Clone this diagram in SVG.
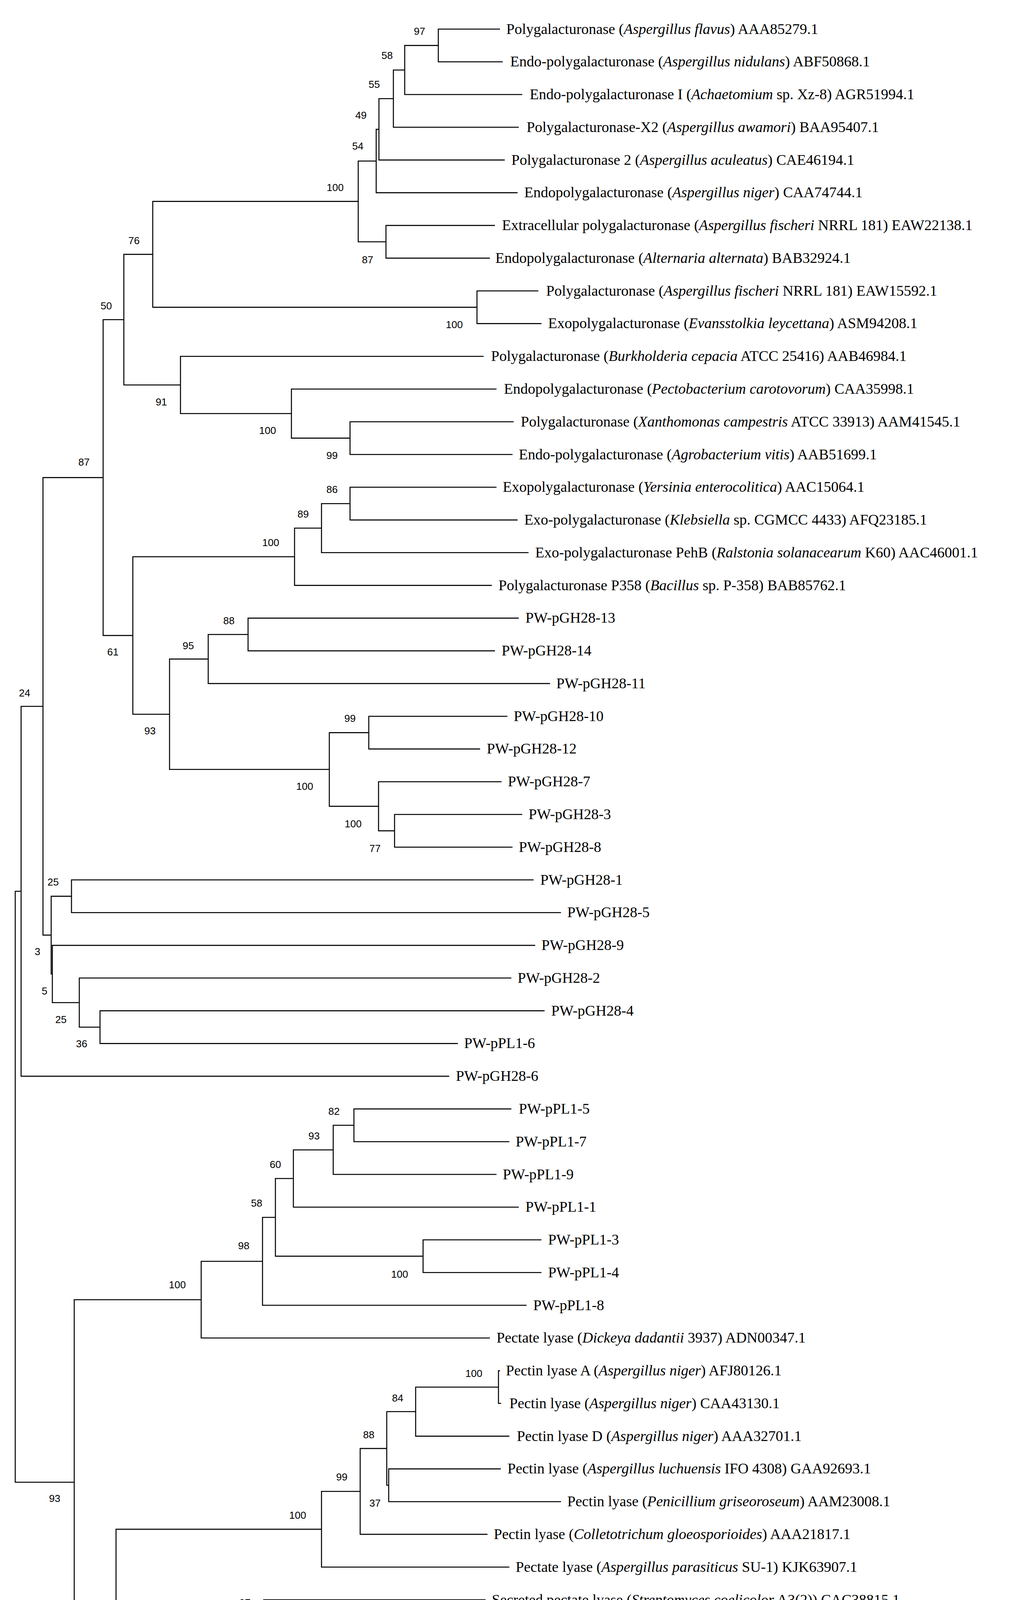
<svg xmlns="http://www.w3.org/2000/svg" width="2588" height="5686" viewBox="0 0 2588 5686">
<style>
.br{fill:none;stroke:#000;stroke-width:2.6;stroke-linejoin:miter}
.lf{font-family:"Liberation Serif","Times New Roman",serif;font-size:38px;fill:#000}
.bs{font-family:"Liberation Sans",Arial,sans-serif;font-size:26px;fill:#000;text-anchor:middle}
.i{font-style:italic}
.sc{font-family:"Liberation Sans",Arial,sans-serif;font-size:27px;fill:#000;text-anchor:middle}
</style>
<rect width="2588" height="5686" fill="#fff"/>
<g id="branches">
<path class="br" d="M1280,74.5H1122V158.3H1287"/>
<path class="br" d="M1122,116.4H1036V242H1337"/>
<path class="br" d="M1036,179.2H1007V325.8H1328"/>
<path class="br" d="M1007,252.5H970V409.6H1292"/>
<path class="br" d="M970,331.1H963V493.4H1325"/>
<path class="br" d="M1267,577.1H988V660.9H1254"/>
<path class="br" d="M963,412.2H917V619H988"/>
<path class="br" d="M1378,744.7H1221V828.4H1386"/>
<path class="br" d="M917,515.6H391V786.6H1221"/>
<path class="br" d="M1315,1079.7H896V1163.5H1312"/>
<path class="br" d="M1271,996H746V1121.6H896"/>
<path class="br" d="M1238,912.2H462V1058.8H746"/>
<path class="br" d="M391,651.1H317V985.5H462"/>
<path class="br" d="M1271,1247.3H896V1331.1H1325"/>
<path class="br" d="M896,1289.2H823V1414.8H1353"/>
<path class="br" d="M823,1352H754V1498.6H1259"/>
<path class="br" d="M1328,1582.4H635V1666.1H1267"/>
<path class="br" d="M635,1624.3H533V1749.9H1408"/>
<path class="br" d="M1299,1833.7H944V1917.4H1229"/>
<path class="br" d="M1337,2085H1010V2168.8H1312"/>
<path class="br" d="M1284,2001.2H969V2126.9H1010"/>
<path class="br" d="M944,1875.6H843V2064.1H969"/>
<path class="br" d="M533,1687.1H434V1969.8H843"/>
<path class="br" d="M754,1425.3H340V1828.5H434"/>
<path class="br" d="M317,818.3H264V1626.9H340"/>
<path class="br" d="M1366,2252.5H183V2336.3H1436"/>
<path class="br" d="M1394,2587.6H256V2671.4H1172"/>
<path class="br" d="M1309,2503.8H203V2629.5H256"/>
<path class="br" d="M1370,2420.1H134V2566.7H203"/>
<path class="br" d="M183,2294.4H131V2493.4H134"/>
<path class="br" d="M264,1222.6H110V2393.9H131"/>
<path class="br" d="M110,1808.3H54V2755.1H1150"/>
<path class="br" d="M1309,2838.9H906V2922.7H1304"/>
<path class="br" d="M906,2880.8H853V3006.5H1271"/>
<path class="br" d="M853,2943.7H751V3090.2H1328"/>
<path class="br" d="M1386,3174H1083V3257.8H1386"/>
<path class="br" d="M751,3017H705V3215.9H1083"/>
<path class="br" d="M705,3116.5H672V3341.5H1348"/>
<path class="br" d="M672,3229H515V3425.3H1254"/>
<path class="br" d="M1280,3509.1H1276V3592.8H1283"/>
<path class="br" d="M1276,3551H1064V3676.6H1304"/>
<path class="br" d="M1282,3760.4H995V3844.2H1436"/>
<path class="br" d="M1064,3613.8H990V3802.3H995"/>
<path class="br" d="M990,3708.1H922V3927.9H1248"/>
<path class="br" d="M922,3818H823V4011.7H1304"/>
<path class="br" d="M1243,4095.5H675V4179.2H1200"/>
<path class="br" d="M675,4137.4H566V4263H1210"/>
<path class="br" d="M1147,4346.8H528V4430.5H1201"/>
<path class="br" d="M566,4200.2H446V4388.7H528"/>
<path class="br" d="M1345,4514.3H1163V4598.1H1356"/>
<path class="br" d="M446,4294.5H408V4556.2H1163"/>
<path class="br" d="M1373,4849.4H794V4933.2H1307"/>
<path class="br" d="M1231,5016.9H968V5100.7H1210"/>
<path class="br" d="M1283,5184.5H1173V5268.2H1174"/>
<path class="br" d="M1179,5352H1178V5435.8H1179"/>
<path class="br" d="M1173,5226.4H947V5393.9H1178"/>
<path class="br" d="M968,5058.8H944V5310.2H947"/>
<path class="br" d="M794,4891.3H553V5184.5H944"/>
<path class="br" d="M1147,4765.6H457V5037.9H553"/>
<path class="br" d="M1345,4681.9H385V4901.8H457"/>
<path class="br" d="M408,4425.4H360V4791.9H385"/>
<path class="br" d="M823,3914.9H297V4608.7H360"/>
<path class="br" d="M515,3327.2H190V4261.8H297"/>
<path class="br" d="M54,2281.7H39V3794.5H190"/>
</g>
<g id="leaves">
<g id="leaf-01"><text class="lf" x="1296" y="86.5">Polygalacturonase (<tspan class="i">Aspergillus flavus</tspan>) AAA85279.1</text></g>
<g id="leaf-02"><text class="lf" x="1306" y="170.3">Endo-polygalacturonase (<tspan class="i">Aspergillus nidulans</tspan>) ABF50868.1</text></g>
<g id="leaf-03"><text class="lf" x="1356" y="254">Endo-polygalacturonase I (<tspan class="i">Achaetomium</tspan> sp. Xz-8) AGR51994.1</text></g>
<g id="leaf-04"><text class="lf" x="1348" y="337.8">Polygalacturonase-X2 (<tspan class="i">Aspergillus awamori</tspan>) BAA95407.1</text></g>
<g id="leaf-05"><text class="lf" x="1309" y="421.6">Polygalacturonase 2 (<tspan class="i">Aspergillus aculeatus</tspan>) CAE46194.1</text></g>
<g id="leaf-06"><text class="lf" x="1342" y="505.4">Endopolygalacturonase (<tspan class="i">Aspergillus niger</tspan>) CAA74744.1</text></g>
<g id="leaf-07"><text class="lf" x="1285" y="589.1">Extracellular polygalacturonase (<tspan class="i">Aspergillus fischeri</tspan> NRRL 181) EAW22138.1</text></g>
<g id="leaf-08"><text class="lf" x="1268" y="672.9">Endopolygalacturonase (<tspan class="i">Alternaria alternata</tspan>) BAB32924.1</text></g>
<g id="leaf-09"><text class="lf" x="1398" y="756.7">Polygalacturonase (<tspan class="i">Aspergillus fischeri</tspan> NRRL 181) EAW15592.1</text></g>
<g id="leaf-10"><text class="lf" x="1403" y="840.4">Exopolygalacturonase (<tspan class="i">Evansstolkia leycettana</tspan>) ASM94208.1</text></g>
<g id="leaf-11"><text class="lf" x="1257" y="924.2">Polygalacturonase (<tspan class="i">Burkholderia cepacia</tspan> ATCC 25416) AAB46984.1</text></g>
<g id="leaf-12"><text class="lf" x="1290" y="1008">Endopolygalacturonase (<tspan class="i">Pectobacterium carotovorum</tspan>) CAA35998.1</text></g>
<g id="leaf-13"><text class="lf" x="1333" y="1091.7">Polygalacturonase (<tspan class="i">Xanthomonas campestris</tspan> ATCC 33913) AAM41545.1</text></g>
<g id="leaf-14"><text class="lf" x="1328" y="1175.5">Endo-polygalacturonase (<tspan class="i">Agrobacterium vitis</tspan>) AAB51699.1</text></g>
<g id="leaf-15"><text class="lf" x="1287" y="1259.3">Exopolygalacturonase (<tspan class="i">Yersinia enterocolitica</tspan>) AAC15064.1</text></g>
<g id="leaf-16"><text class="lf" x="1342" y="1343.1">Exo-polygalacturonase (<tspan class="i">Klebsiella</tspan> sp. CGMCC 4433) AFQ23185.1</text></g>
<g id="leaf-17"><text class="lf" x="1370" y="1426.8">Exo-polygalacturonase PehB (<tspan class="i">Ralstonia solanacearum</tspan> K60) AAC46001.1</text></g>
<g id="leaf-18"><text class="lf" x="1276" y="1510.6">Polygalacturonase P358 (<tspan class="i">Bacillus</tspan> sp. P-358) BAB85762.1</text></g>
<g id="leaf-19"><text class="lf" x="1345" y="1594.4">PW-pGH28-13</text></g>
<g id="leaf-20"><text class="lf" x="1284" y="1678.1">PW-pGH28-14</text></g>
<g id="leaf-21"><text class="lf" x="1424" y="1761.9">PW-pGH28-11</text></g>
<g id="leaf-22"><text class="lf" x="1315" y="1845.7">PW-pGH28-10</text></g>
<g id="leaf-23"><text class="lf" x="1246" y="1929.4">PW-pGH28-12</text></g>
<g id="leaf-24"><text class="lf" x="1300" y="2013.2">PW-pGH28-7</text></g>
<g id="leaf-25"><text class="lf" x="1353" y="2097">PW-pGH28-3</text></g>
<g id="leaf-26"><text class="lf" x="1328" y="2180.8">PW-pGH28-8</text></g>
<g id="leaf-27"><text class="lf" x="1383" y="2264.5">PW-pGH28-1</text></g>
<g id="leaf-28"><text class="lf" x="1452" y="2348.3">PW-pGH28-5</text></g>
<g id="leaf-29"><text class="lf" x="1386" y="2432.1">PW-pGH28-9</text></g>
<g id="leaf-30"><text class="lf" x="1325" y="2515.8">PW-pGH28-2</text></g>
<g id="leaf-31"><text class="lf" x="1411" y="2599.6">PW-pGH28-4</text></g>
<g id="leaf-32"><text class="lf" x="1188" y="2683.4">PW-pPL1-6</text></g>
<g id="leaf-33"><text class="lf" x="1167" y="2767.1">PW-pGH28-6</text></g>
<g id="leaf-34"><text class="lf" x="1328" y="2850.9">PW-pPL1-5</text></g>
<g id="leaf-35"><text class="lf" x="1320" y="2934.7">PW-pPL1-7</text></g>
<g id="leaf-36"><text class="lf" x="1287" y="3018.5">PW-pPL1-9</text></g>
<g id="leaf-37"><text class="lf" x="1345" y="3102.2">PW-pPL1-1</text></g>
<g id="leaf-38"><text class="lf" x="1403" y="3186">PW-pPL1-3</text></g>
<g id="leaf-39"><text class="lf" x="1403" y="3269.8">PW-pPL1-4</text></g>
<g id="leaf-40"><text class="lf" x="1365" y="3353.5">PW-pPL1-8</text></g>
<g id="leaf-41"><text class="lf" x="1271" y="3437.3">Pectate lyase (<tspan class="i">Dickeya dadantii</tspan> 3937) ADN00347.1</text></g>
<g id="leaf-42"><text class="lf" x="1295" y="3521.1">Pectin lyase A (<tspan class="i">Aspergillus niger</tspan>) AFJ80126.1</text></g>
<g id="leaf-43"><text class="lf" x="1304" y="3604.8">Pectin lyase (<tspan class="i">Aspergillus niger</tspan>) CAA43130.1</text></g>
<g id="leaf-44"><text class="lf" x="1323" y="3688.6">Pectin lyase D (<tspan class="i">Aspergillus niger</tspan>) AAA32701.1</text></g>
<g id="leaf-45"><text class="lf" x="1299" y="3772.4">Pectin lyase (<tspan class="i">Aspergillus luchuensis</tspan> IFO 4308) GAA92693.1</text></g>
<g id="leaf-46"><text class="lf" x="1452" y="3856.2">Pectin lyase (<tspan class="i">Penicillium griseoroseum</tspan>) AAM23008.1</text></g>
<g id="leaf-47"><text class="lf" x="1264" y="3939.9">Pectin lyase (<tspan class="i">Colletotrichum gloeosporioides</tspan>) AAA21817.1</text></g>
<g id="leaf-48"><text class="lf" x="1320" y="4023.7">Pectate lyase (<tspan class="i">Aspergillus parasiticus</tspan> SU-1) KJK63907.1</text></g>
<g id="leaf-49"><text class="lf" x="1259" y="4107.5">Secreted pectate lyase (<tspan class="i">Streptomyces coelicolor</tspan> A3(2)) CAC38815.1</text></g>
<g id="leaf-50"><text class="lf" x="1216" y="4191.2">Pectate lyase (<tspan class="i">Lysinibacillus fusiformis</tspan>) ADK23887.1</text></g>
<g id="leaf-51"><text class="lf" x="1226" y="4275">Pectate lyase (<tspan class="i">Dickeya chrysanthemi</tspan>) AAA24843.1</text></g>
<g id="leaf-52"><text class="lf" x="1163" y="4358.8">PW-pPL1-2</text></g>
<g id="leaf-53"><text class="lf" x="1218" y="4442.5">Pectate lyase (<tspan class="i">Thermotoga maritima</tspan> MSB8) AAD35518.1</text></g>
<g id="leaf-54"><text class="lf" x="1361" y="4526.3">Pectate lyase (<tspan class="i">Zinnia elegans</tspan>) CAA70735.1</text></g>
<g id="leaf-55"><text class="lf" x="1373" y="4610.1">Pectate lyase 1 (<tspan class="i">Musa acuminata</tspan> AAA Group) AAF19195.1</text></g>
<g id="leaf-56"><text class="lf" x="1361" y="4693.9">Pectate lyase (<tspan class="i">Paenibacillus amylolyticus</tspan>) ADB78775.2</text></g>
<g id="leaf-57"><text class="lf" x="1163" y="4777.6">Pectate lyase (<tspan class="i">Volvariella volvacea</tspan>) AIU56796.1</text></g>
<g id="leaf-58"><text class="lf" x="1389" y="4861.4">Pectate lyase I (<tspan class="i">Pectobacterium atrosepticum</tspan> SCRI1043) CAG76964.1</text></g>
<g id="leaf-59"><text class="lf" x="1323" y="4945.2">Cold-active and alkaline pectate lyase (<tspan class="i">Massilia eurypsychrophila</tspan>) AXM05364.1</text></g>
<g id="leaf-60"><text class="lf" x="1248" y="5028.9">Pectate lyase (<tspan class="i">Alkalihalobacillus clausii</tspan>) ALK03050.1</text></g>
<g id="leaf-61"><text class="lf" x="1227" y="5112.7">Pectate lyase (<tspan class="i">Bacillus</tspan> sp. P-4-N) BAA96478.1</text></g>
<g id="leaf-62"><text class="lf" x="1299" y="5196.5">Pectate lyase (<tspan class="i">Bacillus pumilus</tspan>) ADK23889.1</text></g>
<g id="leaf-63"><text class="lf" x="1193" y="5280.2">Pectate lyase (<tspan class="i">Bacillus</tspan> sp.) BAA76884.1</text></g>
<g id="leaf-64"><text class="lf" x="1196" y="5364">Pectate lyase (<tspan class="i">Bacillus</tspan> sp. RN1) BAG12908.1</text></g>
<g id="leaf-65"><text class="lf" x="1196" y="5447.8">Pectate lyase (<tspan class="i">Bacillus licheniformis</tspan>) CAD56882.1</text></g>
</g>
<g id="bootstrap">
<g id="node-97a"><text class="bs" x="1074" y="89">97</text></g>
<g id="node-58a"><text class="bs" x="991" y="151">58</text></g>
<g id="node-55"><text class="bs" x="958" y="225">55</text></g>
<g id="node-49"><text class="bs" x="924" y="304">49</text></g>
<g id="node-54"><text class="bs" x="916" y="383">54</text></g>
<g id="node-100a"><text class="bs" x="858" y="489">100</text></g>
<g id="node-87a"><text class="bs" x="941" y="674">87</text></g>
<g id="node-76"><text class="bs" x="343" y="625">76</text></g>
<g id="node-100b"><text class="bs" x="1163" y="840">100</text></g>
<g id="node-50"><text class="bs" x="272" y="792">50</text></g>
<g id="node-91a"><text class="bs" x="413" y="1038">91</text></g>
<g id="node-100d"><text class="bs" x="685" y="1111">100</text></g>
<g id="node-99a"><text class="bs" x="850" y="1175">99</text></g>
<g id="node-87b"><text class="bs" x="215" y="1192">87</text></g>
<g id="node-86"><text class="bs" x="850" y="1262">86</text></g>
<g id="node-89"><text class="bs" x="776" y="1325">89</text></g>
<g id="node-100e"><text class="bs" x="693" y="1398">100</text></g>
<g id="node-88a"><text class="bs" x="586" y="1598">88</text></g>
<g id="node-95"><text class="bs" x="482" y="1662">95</text></g>
<g id="node-61"><text class="bs" x="289" y="1678">61</text></g>
<g id="node-24"><text class="bs" x="63" y="1783">24</text></g>
<g id="node-99b"><text class="bs" x="896" y="1848">99</text></g>
<g id="node-93a"><text class="bs" x="384" y="1880">93</text></g>
<g id="node-100g"><text class="bs" x="780" y="2022">100</text></g>
<g id="node-100f"><text class="bs" x="904" y="2118">100</text></g>
<g id="node-77"><text class="bs" x="960" y="2181">77</text></g>
<g id="node-25a"><text class="bs" x="136" y="2267">25</text></g>
<g id="node-3"><text class="bs" x="96" y="2445">3</text></g>
<g id="node-5"><text class="bs" x="114" y="2546">5</text></g>
<g id="node-25b"><text class="bs" x="156" y="2619">25</text></g>
<g id="node-36"><text class="bs" x="209" y="2681">36</text></g>
<g id="node-82"><text class="bs" x="855" y="2854">82</text></g>
<g id="node-93b"><text class="bs" x="804" y="2917">93</text></g>
<g id="node-60a"><text class="bs" x="705" y="2990">60</text></g>
<g id="node-58b"><text class="bs" x="657" y="3089">58</text></g>
<g id="node-98a"><text class="bs" x="624" y="3198">98</text></g>
<g id="node-100h"><text class="bs" x="1023" y="3271">100</text></g>
<g id="node-100i"><text class="bs" x="454" y="3298">100</text></g>
<g id="node-100j"><text class="bs" x="1213" y="3525">100</text></g>
<g id="node-84"><text class="bs" x="1018" y="3588">84</text></g>
<g id="node-88b"><text class="bs" x="944" y="3682">88</text></g>
<g id="node-99c"><text class="bs" x="875" y="3790">99</text></g>
<g id="node-93c"><text class="bs" x="140" y="3845">93</text></g>
<g id="node-37"><text class="bs" x="960" y="3857">37</text></g>
<g id="node-100k"><text class="bs" x="762" y="3888">100</text></g>
<g id="node-97b"><text class="bs" x="627" y="4112">97</text></g>
<g id="node-98b"><text class="bs" x="517" y="4174">98</text></g>
<g id="node-27"><text class="bs" x="396" y="4268">27</text></g>
<g id="node-91b"><text class="bs" x="248" y="4314">91</text></g>
<g id="node-28"><text class="bs" x="360" y="4398">28</text></g>
<g id="node-58c"><text class="bs" x="479" y="4443">58</text></g>
<g id="node-100l"><text class="bs" x="1102" y="4609">100</text></g>
<g id="node-60b"><text class="bs" x="310" y="4658">60</text></g>
<g id="node-30"><text class="bs" x="335" y="4843">30</text></g>
<g id="node-100m"><text class="bs" x="731" y="4865">100</text></g>
<g id="node-42"><text class="bs" x="409" y="4955">42</text></g>
<g id="node-45"><text class="bs" x="921" y="5031">45</text></g>
<g id="node-51"><text class="bs" x="503" y="5092">51</text></g>
<g id="node-100n"><text class="bs" x="1113" y="5198">100</text></g>
<g id="node-100p"><text class="bs" x="884" y="5237">100</text></g>
<g id="node-19"><text class="bs" x="914" y="5362">19</text></g>
<g id="node-100o"><text class="bs" x="1118" y="5446">100</text></g>
</g>
<g id="scale-bar">
<path class="br" d="M96,5596H362M96,5582V5613M362,5582V5613"/>
<text class="sc" x="217" y="5656">0.20</text>
</g>
</svg>
